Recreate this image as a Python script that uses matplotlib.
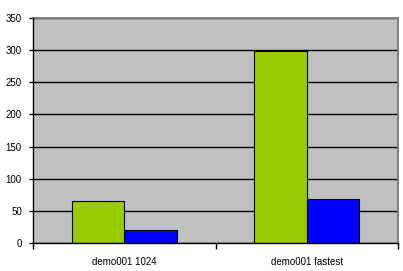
import numpy as np
import matplotlib.pyplot as plt

# data
categories = ["demo001 1024", "demo001 fastest"]
series_green = [65, 298]
series_blue = [20, 68]
y_ticks = [0, 50, 100, 150, 200, 250, 300, 350]

plt.rcParams['font.family'] = ['Liberation Sans', 'DejaVu Sans']

fig = plt.figure(figsize=(4.03, 2.71), dpi=100)
ax = fig.add_axes([33 / 403, 28 / 271, 365 / 403, 225 / 271])
ax.set_facecolor("#C0C0C0")

x = np.arange(len(categories))
w = 0.2875
ax.bar(x - w / 2, series_green, width=w, color="#99CC00", edgecolor="black", linewidth=0.8, zorder=3)
ax.bar(x + w / 2, series_blue, width=w, color="#0000FF", edgecolor="black", linewidth=0.8, zorder=3)

ax.set_xlim(-0.5, len(categories) - 0.5)
ax.set_ylim(0, 350)
ax.set_yticks(y_ticks)
ax.yaxis.grid(True, color="black", linewidth=1.0)
ax.set_axisbelow(True)

# category labels centred, tick marks at category boundaries
ax.set_xticks(x)
ax.set_xticklabels(categories)
ax.set_xticks(np.arange(len(categories) + 1) - 0.5, minor=True)
ax.tick_params(axis="x", which="major", length=0, pad=10, labelsize=7)
ax.tick_params(axis="x", which="minor", length=4, width=1, color="black", direction="out")
ax.tick_params(axis="y", length=3, width=1, pad=5, labelsize=7)

# plot-area frame: grey on top/right, black axes on left/bottom
for s in ["top", "right"]:
    ax.spines[s].set_color("#808080")
    ax.spines[s].set_linewidth(1.4)
    ax.spines[s].set_zorder(5)
for s in ["left", "bottom"]:
    ax.spines[s].set_color("black")
    ax.spines[s].set_linewidth(1.0)
    ax.spines[s].set_zorder(6)

fig.savefig("out.png", dpi=100, facecolor="white")
